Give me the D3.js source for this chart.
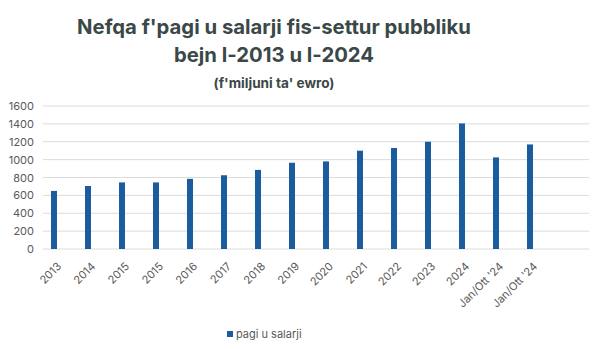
<!DOCTYPE html>
<html>
<head>
<meta charset="utf-8">
<script src="https://cdn.jsdelivr.net/npm/d3@7"></script>
<style>
  html, body { margin: 0; padding: 0; background: #ffffff; }
  svg { display: block; }
</style>
</head>
<body>
<svg id="chart" width="600" height="349"></svg>
<script>
// Public-sector wage bill, millions of euro
const categories = ["2013", "2014", "2015", "2015", "2016", "2017", "2018", "2019",
                    "2020", "2021", "2022", "2023", "2024", "Jan/Ott '24", "Jan/Ott '24"];
const emptySlots = [""];
const values = [650, 705, 745, 745, 785, 825, 885, 965, 980, 1100, 1130, 1200, 1405, 1025, 1170];
const yTicks = [0, 200, 400, 600, 800, 1000, 1200, 1400, 1600];
const seriesName = "pagi u salarji";
const titleLines = ["Nefqa f'pagi u salarji fis-settur pubbliku", "bejn l-2013 u l-2024"];
const subtitle = "(f'miljuni ta' ewro)";

const svg = d3.select("#chart");
const font = "Inter, 'Open Sans', sans-serif";
const barColor = "#1a5c9e";
const textColor = "#595959";

const slots = categories.map((c, i) => i).concat(emptySlots.map((c, i) => categories.length + i));
const x = d3.scaleBand().domain(slots).range([37, 581]).paddingInner(0).paddingOuter(0);
const y = d3.scaleLinear().domain([0, 1600]).range([249, 106]);
const gridLeft = 43, gridRight = 589;

// Horizontal gridlines
svg.append("g").selectAll("line").data(yTicks).join("line")
  .attr("x1", gridLeft).attr("x2", gridRight)
  .attr("y1", d => y(d)).attr("y2", d => y(d))
  .attr("stroke", "#dcdcdc").attr("stroke-width", 1);

// Y axis labels
const yAxis = d3.axisLeft(y).tickValues(yTicks).tickFormat(d3.format("d")).tickSize(0).tickPadding(0);
svg.append("g").attr("transform", "translate(34,0)").call(yAxis)
  .call(g => g.select(".domain").remove())
  .call(g => g.selectAll("text").attr("fill", textColor)
    .style("font-family", font).style("font-size", "11px"));

// Bars
const barW = 6;
svg.append("g").selectAll("rect").data(values).join("rect")
  .attr("x", (d, i) => x(i) + x.bandwidth() / 2 - barW / 2)
  .attr("width", barW)
  .attr("y", d => y(d))
  .attr("height", d => y(0) - y(d))
  .attr("fill", barColor);

// Rotated category labels
svg.append("g").selectAll("text").data(categories).join("text")
  .attr("transform", (d, i) => `translate(${x(i) + x.bandwidth() / 2 + 8},${267}) rotate(-45)`)
  .attr("text-anchor", "end")
  .attr("fill", textColor)
  .style("font-family", font).style("font-size", "11px")
  .text(d => d);

// Title block
const titleX = 274;
svg.append("g").selectAll("text").data(titleLines).join("text")
  .attr("x", titleX).attr("y", (d, i) => 34 + i * 28)
  .attr("text-anchor", "middle")
  .attr("fill", "#3a4848")
  .style("font-family", font).style("font-weight", 700).style("font-size", "20.3px")
  .text(d => d);

svg.append("text")
  .attr("x", titleX).attr("y", 88)
  .attr("text-anchor", "middle")
  .attr("fill", "#3a4848")
  .style("font-family", font).style("font-weight", 700).style("font-size", "13.6px")
  .text(subtitle);

// Legend
const legend = svg.append("g").attr("transform", "translate(227,331)");
legend.append("rect").attr("width", 6).attr("height", 6).attr("fill", barColor);
legend.append("text").attr("x", 9).attr("y", 7)
  .attr("fill", textColor)
  .style("font-family", font).style("font-size", "11px")
  .text(seriesName);
</script>
</body>
</html>
